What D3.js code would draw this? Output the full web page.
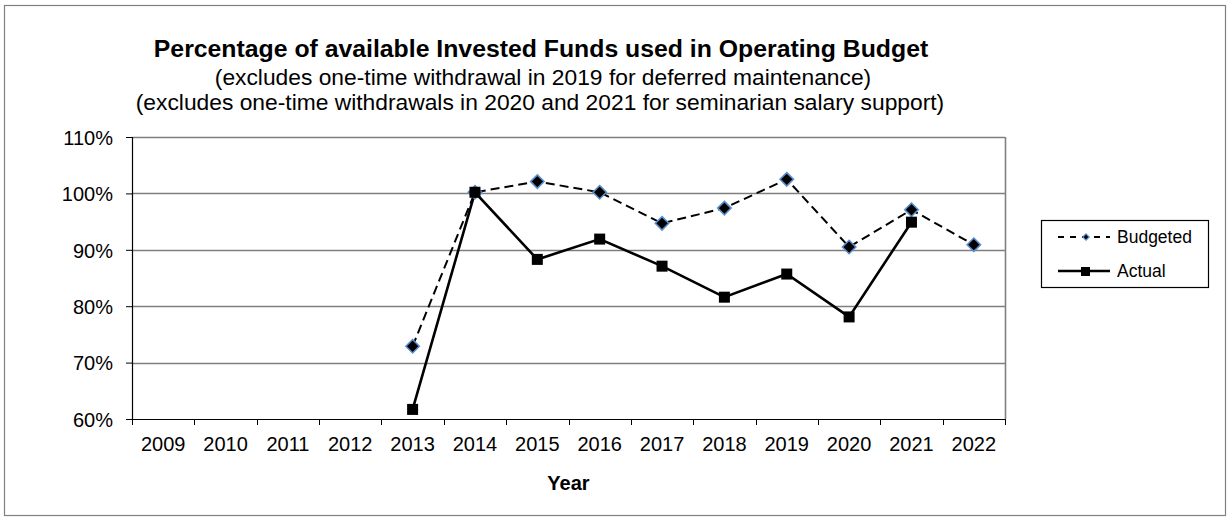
<!DOCTYPE html>
<html>
<head>
<meta charset="utf-8">
<script src="https://cdn.jsdelivr.net/npm/d3@7"></script>
<style>
  body { margin: 0; background: #fff; }
  svg { font-family: "Liberation Sans", Arial, sans-serif; }
</style>
</head>
<body>
<div id="chart"></div>
<script>
// chart data
const years = ["2009", "2010", "2011", "2012", "2013", "2014", "2015", "2016", "2017", "2018", "2019", "2020", "2021", "2022"];
const budgeted = [null, null, null, null, 72.9, 100.2, 102.1, 100.2, 94.7, 97.4, 102.5, 90.5, 97.1, 90.9];
const actual = [null, null, null, null, 61.7, 100.2, 88.3, 91.9, 87.1, 81.6, 85.7, 78.1, 94.9, null];
const yTicks = [60, 70, 80, 90, 100, 110];
const titleLines = [
  "Percentage of available Invested Funds used in Operating Budget",
  "(excludes one-time withdrawal in 2019 for deferred maintenance)",
  "(excludes one-time withdrawals in 2020 and 2021 for seminarian salary support)"
];

const W = 1230, H = 521;
const margin = { top: 137, right: 225, bottom: 102, left: 132 };
const width = W - margin.left - margin.right,
  height = H - margin.top - margin.bottom;

let svg = d3.select("#chart").append("svg")
  .attr("width", W).attr("height", H);

// outer chart border
svg.append("rect")
  .attr("x", 4.5).attr("y", 5.5)
  .attr("width", W - 9).attr("height", H - 11)
  .attr("fill", "#fff").attr("stroke", "#808080").attr("stroke-width", 1.2);

// titles
svg.append("text")
  .attr("x", 541).attr("y", 57)
  .attr("text-anchor", "middle")
  .style("font-size", "24.8px").style("font-weight", "bold")
  .text(titleLines[0]);
svg.append("text")
  .attr("x", 543).attr("y", 85)
  .attr("text-anchor", "middle")
  .style("font-size", "22.8px")
  .text(titleLines[1]);
svg.append("text")
  .attr("x", 540).attr("y", 110)
  .attr("text-anchor", "middle")
  .style("font-size", "22.8px")
  .text(titleLines[2]);

let g = svg.append("g")
  .attr("transform", "translate(" + margin.left + "," + margin.top + ")");

// scales
let x = d3.scaleBand().domain(years).range([0, width]).padding(0);
let y = d3.scaleLinear().domain([60, 110]).range([height, 0]);

// gridlines
g.append("g")
  .selectAll("line")
  .data(yTicks.slice(1))
  .join("line")
  .attr("x1", 0).attr("x2", width)
  .attr("y1", d => Math.round(y(d)) + 0.5).attr("y2", d => Math.round(y(d)) + 0.5)
  .attr("stroke", "#7f7f7f").attr("stroke-width", 1.4);

// right border of plot
g.append("line")
  .attr("x1", width + 0.5).attr("x2", width + 0.5)
  .attr("y1", 0).attr("y2", height)
  .attr("stroke", "#808080").attr("stroke-width", 1.6);

// y axis
let yAxis = g.append("g")
  .call(d3.axisLeft(y).tickValues(yTicks).tickSize(6).tickFormat(d => d + "%"));
yAxis.select(".domain").attr("stroke", "#000").attr("stroke-width", 1.2);
yAxis.selectAll(".tick line").attr("stroke", "#000");
yAxis.selectAll("text")
  .style("font-size", "20px").attr("fill", "#000").attr("x", -19).attr("dy", "0.36em");

// x axis with ticks between categories
let xAxis = g.append("g")
  .attr("transform", "translate(0," + height + ")")
  .call(d3.axisBottom(x).tickSize(0).tickPadding(18));
xAxis.select(".domain").attr("stroke", "#000").attr("stroke-width", 1.2);
xAxis.selectAll("text").style("font-size", "20px").attr("fill", "#000");
xAxis.selectAll(".sep")
  .data(d3.range(years.length + 1))
  .join("line")
  .attr("class", "sep")
  .attr("x1", i => Math.round(i * x.bandwidth()) + 0.5)
  .attr("x2", i => Math.round(i * x.bandwidth()) + 0.5)
  .attr("y1", 0).attr("y2", 6)
  .attr("stroke", "#000");

// x axis title
svg.append("text")
  .attr("x", margin.left + width / 2).attr("y", 490)
  .attr("text-anchor", "middle")
  .style("font-size", "20px").style("font-weight", "bold")
  .text("Year");

const cx = d => x(d) + x.bandwidth() / 2;

// budgeted line (dashed)
let bData = years.map((yr, i) => ({ yr, v: budgeted[i] })).filter(d => d.v !== null);
g.append("path")
  .datum(bData)
  .attr("fill", "none").attr("stroke", "#000")
  .attr("stroke-width", 2).attr("stroke-dasharray", "9,5")
  .attr("d", d3.line().x(d => cx(d.yr)).y(d => y(d.v)));

// actual line
let aData = years.map((yr, i) => ({ yr, v: actual[i] })).filter(d => d.v !== null);
g.append("path")
  .datum(aData)
  .attr("fill", "none").attr("stroke", "#000")
  .attr("stroke-width", 2.6)
  .attr("d", d3.line().x(d => cx(d.yr)).y(d => y(d.v)));

// budgeted markers (diamonds)
g.selectAll(".bmark")
  .data(bData)
  .join("path")
  .attr("class", "bmark")
  .attr("transform", d => "translate(" + cx(d.yr) + "," + y(d.v) + ")")
  .attr("d", d3.symbol().type(d3.symbolDiamond2).size(115))
  .attr("fill", "#000").attr("stroke", "#5b8fd0").attr("stroke-width", 1.6);

// actual markers (squares)
g.selectAll(".amark")
  .data(aData)
  .join("rect")
  .attr("class", "amark")
  .attr("x", d => cx(d.yr) - 5.5).attr("y", d => y(d.v) - 5.5)
  .attr("width", 11).attr("height", 11)
  .attr("fill", "#000");

// legend
let lg = svg.append("g").attr("transform", "translate(1041,220)");
lg.append("rect")
  .attr("x", 0.5).attr("y", 0.5).attr("width", 167).attr("height", 67)
  .attr("fill", "#fff").attr("stroke", "#000").attr("stroke-width", 1.2);
lg.append("line")
  .attr("x1", 17).attr("x2", 69).attr("y1", 17).attr("y2", 17)
  .attr("stroke", "#000").attr("stroke-width", 2).attr("stroke-dasharray", "6,6");
lg.append("path")
  .attr("transform", "translate(45,17)")
  .attr("d", d3.symbol().type(d3.symbolDiamond2).size(26))
  .attr("fill", "#000").attr("stroke", "#5b8fd0").attr("stroke-width", 1.2);
lg.append("text")
  .attr("x", 76).attr("y", 23).style("font-size", "17.5px").text("Budgeted");
lg.append("line")
  .attr("x1", 17).attr("x2", 69).attr("y1", 51).attr("y2", 51)
  .attr("stroke", "#000").attr("stroke-width", 2.6);
lg.append("rect")
  .attr("x", 40).attr("y", 47).attr("width", 9).attr("height", 9).attr("fill", "#000");
lg.append("text")
  .attr("x", 76).attr("y", 57).style("font-size", "17.5px").text("Actual");
</script>
</body>
</html>
